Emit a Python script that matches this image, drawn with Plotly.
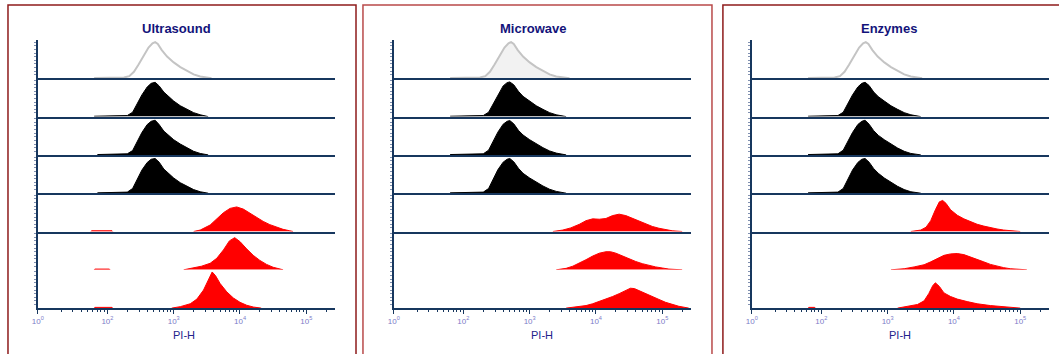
import plotly.graph_objects as go

W, H = 1059, 354

panel_titles = ["Ultrasound", "Microwave", "Enzymes"]
axis_label = "PI-H"
tick_vals = [10 ** 0.95, 1e2, 1e3, 1e4, 1e5]
tick_text = ["10<sup>0</sup>", "10<sup>2</sup>", "10<sup>3</sup>", "10<sup>4</sup>", "10<sup>5</sup>"]
row_kind = ["control", "black", "black", "black", "red", "red", "red"]

# ---- Ultrasound (log10 PI-H, relative count); None separates debris from main peak ----
us1_exp = [1.80, 2.25, 2.33, 2.40, 2.47, 2.55, 2.62, 2.68, 2.72, 2.76, 2.82, 2.90, 3.00, 3.10, 3.20, 3.30, 3.40, 3.50, 3.57]
us1_cnt = [1, 2, 6, 18, 38, 62, 85, 97, 100, 95, 78, 60, 44, 31, 20, 11, 5, 2, 0]
us2_exp = [1.80, 2.20, 2.30, 2.38, 2.45, 2.52, 2.60, 2.66, 2.72, 2.78, 2.85, 2.92, 3.00, 3.10, 3.20, 3.30, 3.40, 3.52]
us2_cnt = [1, 1, 3, 12, 35, 60, 82, 92, 95, 85, 68, 55, 43, 30, 20, 11, 5, 0]
us3_exp = [1.85, 2.20, 2.30, 2.38, 2.45, 2.52, 2.60, 2.66, 2.72, 2.78, 2.85, 2.92, 3.00, 3.10, 3.20, 3.30, 3.40, 3.52]
us3_cnt = [1, 1, 3, 12, 36, 62, 84, 93, 96, 84, 66, 54, 42, 30, 19, 10, 4, 0]
us4_exp = [1.85, 2.20, 2.30, 2.38, 2.45, 2.52, 2.60, 2.66, 2.72, 2.78, 2.85, 2.92, 3.00, 3.10, 3.20, 3.30, 3.40, 3.52]
us4_cnt = [1, 1, 3, 13, 38, 64, 85, 94, 96, 86, 67, 54, 42, 29, 19, 10, 4, 0]
us5_exp = [1.75, 1.76, 2.07, 2.08, None, 3.30, 3.40, 3.55, 3.65, 3.75, 3.85, 3.95, 4.05, 4.15, 4.25, 4.35, 4.45, 4.55, 4.65, 4.75, 4.80]
us5_cnt = [0, 2, 2, 0, None, 0, 4, 18, 36, 52, 64, 68, 62, 50, 38, 28, 19, 12, 6, 2, 0]
us6_exp = [1.80, 1.81, 2.03, 2.04, None, 3.15, 3.30, 3.42, 3.55, 3.65, 3.75, 3.84, 3.92, 4.00, 4.10, 4.20, 4.30, 4.40, 4.50, 4.60, 4.65]
us6_cnt = [0, 2, 2, 0, None, 0, 5, 10, 18, 32, 55, 80, 89, 78, 58, 40, 26, 15, 7, 2, 0]
us7_exp = [1.80, 1.81, 2.07, 2.08, None, 2.97, 3.10, 3.25, 3.35, 3.45, 3.53, 3.58, 3.63, 3.70, 3.80, 3.90, 4.00, 4.10, 4.20, 4.32]
us7_cnt = [0, 2, 2, 0, None, 0, 4, 12, 25, 50, 82, 100, 90, 68, 45, 28, 16, 8, 3, 0]

# ---- Microwave ----
mw1_exp = [1.80, 2.25, 2.33, 2.40, 2.47, 2.55, 2.62, 2.68, 2.72, 2.76, 2.82, 2.90, 3.00, 3.10, 3.20, 3.30, 3.40, 3.50, 3.60]
mw1_cnt = [1, 2, 6, 18, 38, 62, 85, 97, 100, 95, 78, 60, 44, 31, 20, 11, 5, 2, 0]
mw2_exp = [1.80, 2.20, 2.30, 2.38, 2.45, 2.52, 2.60, 2.66, 2.70, 2.76, 2.83, 2.90, 3.00, 3.10, 3.20, 3.30, 3.40, 3.55]
mw2_cnt = [1, 1, 3, 12, 35, 62, 85, 94, 96, 88, 70, 56, 43, 30, 20, 11, 5, 0]
mw3_exp = [1.80, 2.20, 2.30, 2.38, 2.45, 2.52, 2.60, 2.66, 2.70, 2.76, 2.83, 2.90, 3.00, 3.10, 3.20, 3.30, 3.40, 3.55]
mw3_cnt = [1, 1, 3, 13, 37, 63, 85, 93, 95, 86, 68, 55, 42, 30, 20, 11, 5, 0]
mw4_exp = [1.80, 2.20, 2.30, 2.38, 2.45, 2.52, 2.60, 2.66, 2.70, 2.76, 2.83, 2.90, 3.00, 3.10, 3.20, 3.30, 3.40, 3.55]
mw4_cnt = [1, 1, 3, 13, 38, 65, 86, 94, 96, 87, 69, 55, 42, 30, 20, 11, 5, 0]
mw5_exp = [3.35, 3.50, 3.62, 3.75, 3.85, 3.95, 4.05, 4.15, 4.25, 4.35, 4.45, 4.55, 4.65, 4.75, 4.85, 4.95, 5.05, 5.15, 5.30]
mw5_cnt = [0, 4, 10, 20, 30, 35, 34, 36, 44, 48, 44, 36, 28, 20, 14, 9, 5, 2, 0]
mw6_exp = [3.40, 3.55, 3.65, 3.75, 3.85, 3.95, 4.05, 4.15, 4.22, 4.30, 4.40, 4.50, 4.60, 4.70, 4.80, 4.90, 5.00, 5.10, 5.30]
mw6_cnt = [0, 4, 10, 18, 28, 38, 46, 50, 50, 46, 38, 30, 23, 17, 12, 8, 5, 2, 0]
mw7_exp = [3.55, 3.70, 3.85, 3.95, 4.05, 4.15, 4.25, 4.35, 4.45, 4.52, 4.58, 4.65, 4.75, 4.85, 4.95, 5.05, 5.15, 5.25, 5.40]
mw7_cnt = [0, 3, 7, 12, 18, 24, 32, 40, 50, 55, 54, 48, 40, 32, 24, 16, 10, 5, 0]

# ---- Enzymes ----
ez1_exp = [1.80, 2.20, 2.28, 2.35, 2.42, 2.50, 2.57, 2.63, 2.67, 2.71, 2.77, 2.85, 2.95, 3.05, 3.15, 3.25, 3.35, 3.45, 3.52]
ez1_cnt = [1, 2, 6, 18, 38, 62, 85, 97, 100, 95, 78, 60, 44, 31, 20, 11, 5, 2, 0]
ez2_exp = [1.80, 2.15, 2.25, 2.33, 2.40, 2.47, 2.55, 2.61, 2.66, 2.72, 2.79, 2.86, 2.95, 3.05, 3.15, 3.25, 3.35, 3.50]
ez2_cnt = [1, 1, 3, 12, 35, 60, 82, 92, 95, 86, 68, 55, 43, 30, 20, 11, 5, 0]
ez3_exp = [1.80, 2.15, 2.25, 2.33, 2.40, 2.47, 2.55, 2.61, 2.66, 2.72, 2.79, 2.86, 2.95, 3.05, 3.15, 3.25, 3.35, 3.50]
ez3_cnt = [1, 1, 3, 13, 36, 62, 84, 93, 96, 85, 67, 54, 42, 30, 19, 10, 4, 0]
ez4_exp = [1.80, 2.15, 2.25, 2.33, 2.40, 2.47, 2.55, 2.61, 2.66, 2.72, 2.79, 2.86, 2.95, 3.05, 3.15, 3.25, 3.35, 3.50]
ez4_cnt = [1, 1, 3, 13, 38, 64, 85, 94, 96, 86, 68, 55, 42, 30, 19, 10, 4, 0]
ez5_exp = [3.35, 3.50, 3.58, 3.65, 3.72, 3.78, 3.83, 3.88, 3.95, 4.05, 4.15, 4.25, 4.35, 4.45, 4.55, 4.65, 4.75, 4.85, 5.00]
ez5_cnt = [0, 4, 12, 30, 60, 82, 86, 78, 60, 45, 35, 27, 20, 15, 10, 7, 4, 2, 0]
ez6_exp = [3.05, 3.25, 3.40, 3.55, 3.65, 3.75, 3.85, 3.95, 4.05, 4.15, 4.25, 4.35, 4.45, 4.55, 4.65, 4.75, 4.85, 5.00, 5.10]
ez6_cnt = [0, 3, 8, 14, 22, 32, 40, 44, 45, 42, 36, 29, 22, 15, 10, 6, 3, 1, 0]
ez7_exp = [1.80, 1.81, 1.90, 1.91, None, 3.15, 3.30, 3.45, 3.55, 3.62, 3.68, 3.72, 3.78, 3.85, 3.95, 4.05, 4.20, 4.35, 4.55, 4.75, 5.00]
ez7_cnt = [0, 2, 2, 0, None, 0, 4, 10, 20, 40, 62, 70, 60, 42, 32, 25, 18, 12, 7, 3, 0]

panel_data = [
    [(us1_exp, us1_cnt), (us2_exp, us2_cnt), (us3_exp, us3_cnt), (us4_exp, us4_cnt),
     (us5_exp, us5_cnt), (us6_exp, us6_cnt), (us7_exp, us7_cnt)],
    [(mw1_exp, mw1_cnt), (mw2_exp, mw2_cnt), (mw3_exp, mw3_cnt), (mw4_exp, mw4_cnt),
     (mw5_exp, mw5_cnt), (mw6_exp, mw6_cnt), (mw7_exp, mw7_cnt)],
    [(ez1_exp, ez1_cnt), (ez2_exp, ez2_cnt), (ez3_exp, ez3_cnt), (ez4_exp, ez4_cnt),
     (ez5_exp, ez5_cnt), (ez6_exp, ez6_cnt), (ez7_exp, ez7_cnt)],
]

# ---- layout geometry (pixels) ----
panel_x = [(32, 331), (390, 689), (750, 1049)]
title_cx = [171, 530, 888]
label_cx = [179, 539, 899]
plot_top, row_h, n_rows = 40, 38.3, 7
frames = [(2, 352, "#8E1B1B"), (359, 710, "#B94A4A"), (721, 1070, "#8E1B1B")]
NAVY = "#17375E"

def px_x(p):
    return p / W

def px_y(p):
    return 1 - p / H

fig = go.Figure()
layout = dict(
    width=W, height=H, autosize=False,
    margin=dict(l=0, r=0, t=0, b=0),
    paper_bgcolor="white", plot_bgcolor="white",
    showlegend=False,
    font=dict(family="Liberation Sans, Arial, sans-serif"),
)

minor_vals = [m * 10 ** d for d in range(1, 6) for m in range(2, 10)]

idx = 0
for p in range(3):
    for r in range(n_rows):
        idx += 1
        xa = "x" if idx == 1 else f"x{idx}"
        ya = "y" if idx == 1 else f"y{idx}"
        exps, cnts = panel_data[p][r]
        xs = [None if e is None else 10 ** e for e in exps]
        kind = row_kind[r]
        if kind == "control":
            fillc = "rgba(242,242,242,1)" if p == 1 else "rgba(0,0,0,0)"
            fig.add_trace(go.Scatter(x=xs, y=cnts, xaxis=xa, yaxis=ya, mode="lines",
                                     line=dict(color="#C4C4C4", width=2),
                                     fill="tozeroy", fillcolor=fillc, hoverinfo="skip"))
        else:
            col = "#000000" if kind == "black" else "#FF0000"
            fig.add_trace(go.Scatter(x=xs, y=cnts, xaxis=xa, yaxis=ya, mode="lines",
                                     line=dict(color=col, width=1), connectgaps=False,
                                     fill="tozeroy", fillcolor=col, hoverinfo="skip"))
        top = plot_top + r * row_h
        bot = top + row_h
        bottom_row = (r == n_rows - 1)
        xkey = "xaxis" if idx == 1 else f"xaxis{idx}"
        ykey = "yaxis" if idx == 1 else f"yaxis{idx}"
        layout[xkey] = dict(
            domain=[px_x(panel_x[p][0]), px_x(panel_x[p][1])],
            anchor=ya, type="log", range=[0.95, 5.435],
            showline=True, linecolor=NAVY, linewidth=2,
            showgrid=False, zeroline=False,
            tickvals=tick_vals, ticktext=tick_text,
            showticklabels=bottom_row,
            ticks="outside" if bottom_row else "",
            ticklen=4, tickcolor=NAVY, tickwidth=1,
            tickfont=dict(size=8, color="#7B7BC8"),
            minor=dict(tickvals=minor_vals, ticks="outside" if bottom_row else "",
                       ticklen=2, tickcolor=NAVY) if bottom_row else dict(ticks=""),
        )
        layout[ykey] = dict(
            domain=[px_y(bot), px_y(top)], anchor=xa, range=[0, 106],
            showline=True, linecolor=NAVY, linewidth=2,
            showgrid=False, zeroline=False, showticklabels=False,
            ticks="outside", ticklen=2, tickcolor="#8090B0", tickwidth=1,
            tickvals=[10, 20, 30, 40, 50, 60, 70, 80, 90, 100],
        )

shapes = []
for x0, x1, c in frames:
    shapes.append(dict(type="rect", xref="paper", yref="paper",
                       x0=px_x(x0), x1=px_x(x1), y0=px_y(370), y1=px_y(5),
                       line=dict(color=c, width=1.5), fillcolor="rgba(0,0,0,0)", layer="below"))
layout["shapes"] = shapes

annotations = []
for p, t in enumerate(panel_titles):
    annotations.append(dict(text=f"<b>{t}</b>", x=px_x(title_cx[p]), y=px_y(28), xref="paper", yref="paper",
                            showarrow=False, font=dict(size=13, color="#13137A"),
                            xanchor="center", yanchor="middle"))
    annotations.append(dict(text=axis_label, x=px_x(label_cx[p]), y=px_y(335), xref="paper", yref="paper",
                            showarrow=False, font=dict(size=11, color="#23238C"),
                            xanchor="center", yanchor="middle"))
layout["annotations"] = annotations

fig.update_layout(**layout)
fig.write_html("out.html", config={"displayModeBar": False},
               post_script="document.body.style.margin='0px';document.body.style.overflow='hidden';")
